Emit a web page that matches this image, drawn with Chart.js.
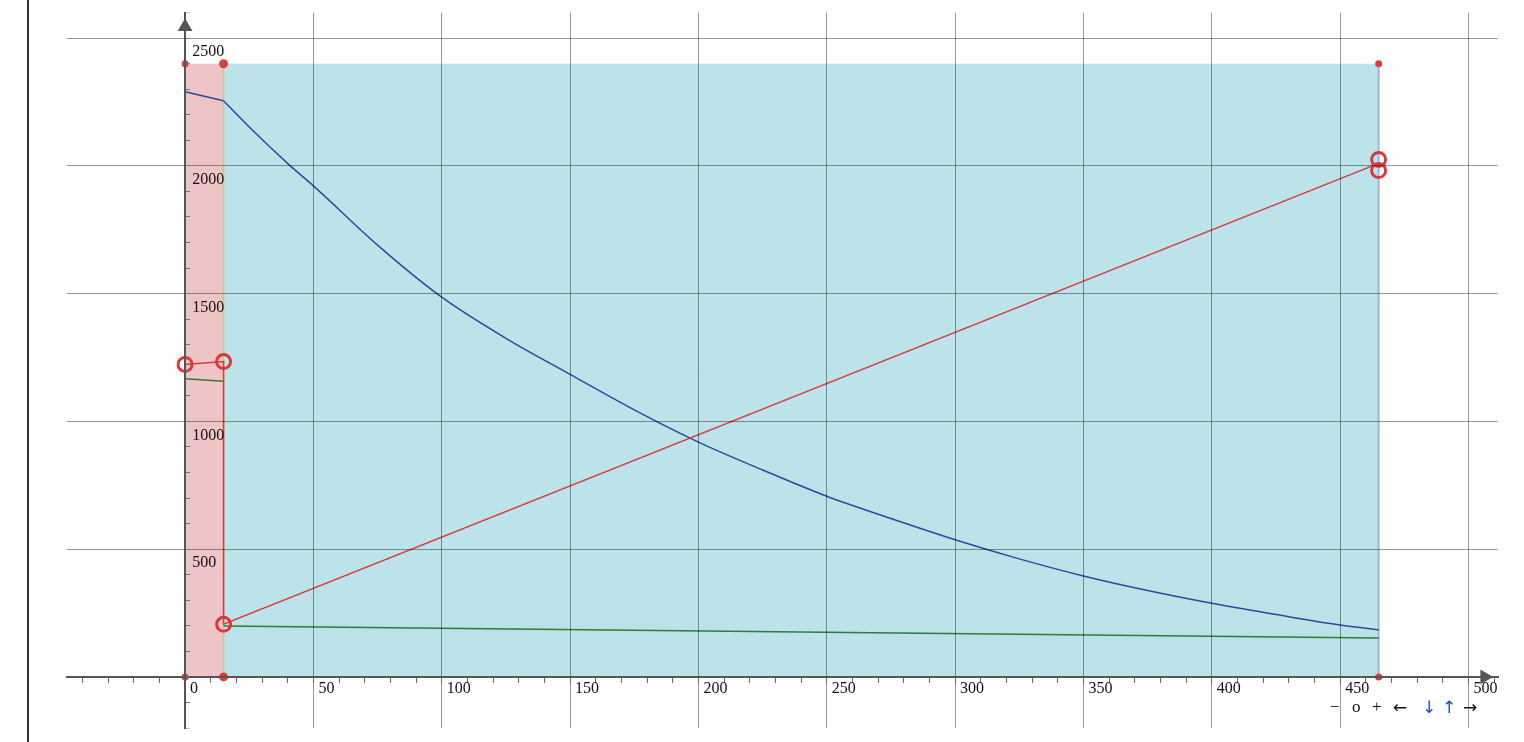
<!DOCTYPE html>
<html><head><meta charset="utf-8">
<script src="https://cdn.jsdelivr.net/npm/chart.js@4"></script>
<style>
html,body{margin:0;padding:0;background:#fff;width:1524px;height:742px;overflow:hidden}
#wrap{position:relative;width:1524px;height:742px}
#leftbar{position:absolute;left:27px;top:0;width:2px;height:742px;background:#333}
canvas{position:absolute;left:0;top:0}
.ctl{position:absolute;top:697px;font:17px 'Liberation Serif',serif;color:#111;line-height:20px}
.ar{font-family:'DejaVu Sans',sans-serif;font-size:17px;font-weight:normal}
.b{color:#1d4fc4}
</style></head>
<body><div id="wrap"><div id="leftbar"></div><canvas id="c" width="1524" height="742"></canvas>
<span class="ctl" style="left:1330px">−</span>
<span class="ctl" style="left:1352px">o</span>
<span class="ctl" style="left:1372px">+</span>
<span class="ctl ar" style="left:1393px">←</span>
<span class="ctl ar b" style="left:1422px">↓</span>
<span class="ctl ar b" style="left:1442px">↑</span>
<span class="ctl ar" style="left:1463px">→</span>
</div>
<script>
// ---- data ----
const xTickLabels = [0, 50, 100, 150, 200, 250, 300, 350, 400, 450, 500];
const yTickLabels = [500, 1000, 1500, 2000, 2500];
const zoneX = [0, 15, 465];
const zoneTop = 2400;
const blueLeadX = [0, 15];
const blueLeadY = [2290, 2255];
const blueX = [15, 25, 41, 50, 75, 100, 125, 150, 175, 200, 225, 250, 275, 300, 325, 350, 375, 400, 425, 450, 465];
const blueY = [2255, 2152, 2000, 1922, 1690, 1486, 1325, 1184, 1045, 919, 810, 707, 620, 537, 462, 395, 338, 288, 244, 203, 184];
const greenX = [0, 15, 15, 15, 465];
const greenY = [1167, 1157, null, 199, 152];
const redX = [0, 15, 15, 465];
const redY = [1223, 1234, 206, 2010];
const markX = [0, 15, 15, 465, 465];
const markY = [1223, 1234, 206, 2025, 1982];
const cornerX = [0, 0, 15, 15, 465, 465];
const cornerY = [0, 2400, 0, 2400, 0, 2400];
const arrowX = [506.3, 0];
const arrowY = [0, 2545];

const pts = (xs, ys) => xs.map((x, i) => ({x: x, y: ys[i]}));
const GRID = 'rgba(0,0,0,0.4)';
const NONE = 'rgba(0,0,0,0)';
const FONT = {family: "'Liberation Serif', serif", size: 16};

new Chart(document.getElementById('c'), {
  type: 'scatter',
  data: {datasets: [
    {data: pts([zoneX[0], zoneX[1]], [zoneTop, zoneTop]), showLine: true, fill: 'origin',
     backgroundColor: 'rgb(239,196,199)', borderWidth: 0, pointRadius: 0, order: 10},
    {data: pts([zoneX[1], zoneX[2]], [zoneTop, zoneTop]), showLine: true, fill: 'origin',
     backgroundColor: 'rgb(188,227,234)', borderWidth: 0, pointRadius: 0, order: 10},
    {data: pts([zoneX[1], zoneX[1]], [0, zoneTop]), showLine: true, borderColor: 'rgba(190,205,140,0.95)',
     borderWidth: 1.5, pointRadius: 0, order: 9},
    {data: pts([zoneX[2], zoneX[2]], [0, zoneTop]), showLine: true, borderColor: 'rgba(160,168,218,0.9)',
     borderWidth: 2, pointRadius: 0, order: 9},
    {data: pts(greenX, greenY), showLine: true, spanGaps: false, borderColor: '#2f7d3b', borderWidth: 1.5, pointRadius: 0, tension: 0, order: 6},
    {data: pts(blueLeadX, blueLeadY), showLine: true, borderColor: '#2b4a9c', borderWidth: 1.5, pointRadius: 0, tension: 0, order: 5},
    {data: pts(blueX, blueY), showLine: true, borderColor: '#2b4a9c', borderWidth: 1.5, pointRadius: 0,
     cubicInterpolationMode: 'monotone', order: 5},
    {data: pts(redX, redY), showLine: true, borderColor: '#d9393b', borderWidth: 1.5, pointRadius: 0, tension: 0, order: 4},
    {data: pts(markX, markY), showLine: false, pointRadius: 7, pointBorderWidth: 3,
     pointBorderColor: '#d9393b', pointBackgroundColor: NONE, order: 3},
    {data: pts(cornerX, cornerY), showLine: false, pointRadius: c => (c.raw && c.raw.x === 15 ? 4.5 : 3.5),
     pointBorderWidth: 0, pointBackgroundColor: '#d8403f', order: 2},
    {data: pts(arrowX, arrowY), showLine: false, pointStyle: 'triangle', pointRadius: 8.5,
     rotation: c => (c.dataIndex === 0 ? 90 : 0), pointBorderWidth: 0, pointBackgroundColor: '#555', order: 1}
  ]},
  options: {
    responsive: false, animation: false, events: [],
    layout: {padding: {left: 67, right: 26, top: 12, bottom: 14}},
    plugins: {legend: {display: false}, tooltip: {enabled: false}},
    scales: {
      x: {
        type: 'linear', position: {y: 0}, min: -46, max: 511.5,
        grid: {z: 1, lineWidth: 1, tickLength: 5,
          color: c => (c.tick && c.tick.value % 50 === 0 && c.tick.value !== 0 ? GRID : NONE),
          tickColor: '#666'},
        border: {z: 1, color: '#555', width: 2},
        ticks: {z: 1, stepSize: 10, autoSkip: false, maxRotation: 0, minRotation: 0, includeBounds: false,
          align: 'start', labelOffset: 5, padding: -3, color: '#111', font: FONT,
          callback: v => (xTickLabels.includes(v) ? String(v) : '')}
      },
      y: {
        type: 'linear', position: {x: 0}, min: -200, max: 2600,
        grid: {z: 1, lineWidth: 1, tickLength: -6,
          color: c => (c.tick && c.tick.value % 500 === 0 && c.tick.value > 0 ? GRID : NONE),
          tickColor: c => (c.tick && (c.tick.value === -200 || c.tick.value === 2600) ? '#c8c8c8' : '#777')},
        border: {z: 1, color: '#555', width: 2},
        ticks: {z: 1, stepSize: 100, autoSkip: false, includeBounds: false, callback: () => ''}
      },
      yl: {
        type: 'linear', axis: 'y', display: true, position: {x: 15.3}, min: -200, max: 2600,
        grid: {display: false}, border: {display: false},
        ticks: {display: true, z: 1, stepSize: 100, autoSkip: false, includeBounds: false, labelOffset: 14,
          color: '#111', font: FONT,
          callback: v => (yTickLabels.includes(v) ? (String(v).length < 4 ? String(v) + '\u2007' : String(v)) : '')}
      }
    }
  }
});
</script>
</body></html>
